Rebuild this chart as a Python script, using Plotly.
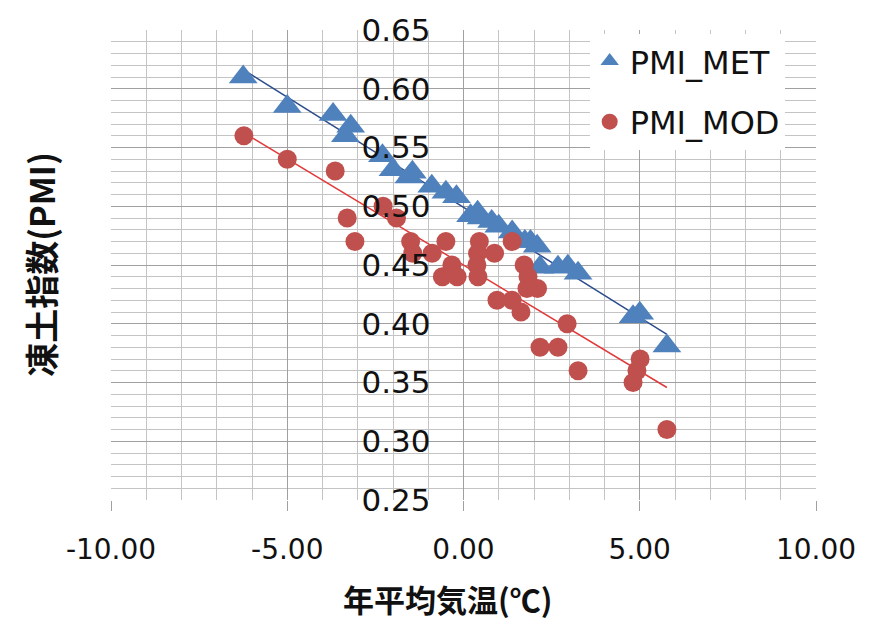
import numpy as np
import plotly.graph_objects as go

# ---- data ----
met_x = [-6.25, -5.00, -3.70, -3.20, -3.35, -2.30, -2.00, -1.55, -1.45, -0.90, -0.50, -0.20,
         0.20, 0.40, 0.50, 0.80, 1.00, 1.38, 1.74, 1.90, 2.09, 2.17, 2.68, 2.96, 3.25,
         4.81, 5.00, 5.77]
met_y = [0.610, 0.585, 0.578, 0.568, 0.560, 0.543, 0.531, 0.525, 0.529, 0.517, 0.512, 0.508,
         0.492, 0.495, 0.490, 0.487, 0.483, 0.478, 0.470, 0.470, 0.466, 0.448, 0.448, 0.449, 0.443,
         0.406, 0.409, 0.381]

mod_x = [-6.23, -5.00, -3.64, -3.30, -3.08, -2.28, -1.90, -1.50, -1.44, -0.89, -0.50, -0.60,
         -0.33, -0.18, 0.45, 0.40, 0.38, 0.41, 0.88, 1.38, 0.95, 1.38, 1.63, 1.72, 1.83,
         1.80, 2.10, 2.94, 2.17, 2.68, 3.25, 5.01, 4.92, 4.81, 5.77]
mod_y = [0.56, 0.54, 0.53, 0.49, 0.47, 0.50, 0.49, 0.47, 0.46, 0.46, 0.47, 0.44,
         0.45, 0.44, 0.47, 0.46, 0.45, 0.44, 0.46, 0.47, 0.42, 0.42, 0.41, 0.45, 0.44,
         0.43, 0.43, 0.40, 0.38, 0.38, 0.36, 0.37, 0.36, 0.35, 0.31]

# linear trendlines (slope, intercept)
met_trend = [-0.01875, 0.4991]
mod_trend = [-0.01807, 0.4500]

x_ticks = [-10, -5, 0, 5, 10]
x_ticktext = ["-10.00", "-5.00", "0.00", "5.00", "10.00"]
y_ticks = [0.25, 0.30, 0.35, 0.40, 0.45, 0.50, 0.55, 0.60, 0.65]

x_title = "年平均気温(℃)"
y_title = "凍土指数(PMI)"
names = ["PMI_MET", "PMI_MOD"]

BLUE = "#4F81BD"
RED = "#C0504D"


def trend(xs, coef):
    xx = np.array([min(xs), max(xs)])
    return xx, coef[0] * xx + coef[1]


fig = go.Figure()

tx, ty = trend(met_x, met_trend)
fig.add_trace(go.Scatter(x=tx, y=ty, mode="lines", line=dict(color="#2B4C8C", width=1.5),
                         showlegend=False, hoverinfo="skip"))
tx2, ty2 = trend(mod_x, mod_trend)
fig.add_trace(go.Scatter(x=tx2, y=ty2, mode="lines", line=dict(color="#E23A3A", width=1.5),
                         showlegend=False, hoverinfo="skip"))

fig.add_trace(go.Scatter(x=met_x, y=met_y, mode="markers", name=names[0], legendgroup="a",
                         marker=dict(symbol="triangle-up", size=25, color=BLUE)))
fig.add_trace(go.Scatter(x=mod_x, y=mod_y, mode="markers", name=names[1], legendgroup="b",
                         marker=dict(symbol="circle", size=19, color=RED)))

fig.update_layout(
    width=874, height=625,
    margin=dict(l=111, r=58, t=22, b=125),
    plot_bgcolor="white", paper_bgcolor="white",
    showlegend=True,
    legend=dict(x=0.679, y=0.992, xanchor="left", yanchor="top",
                bgcolor="white", borderwidth=0,
                font=dict(family="DejaVu Sans", size=32, color="#111111"),
                tracegroupgap=16, traceorder="grouped"),
    xaxis=dict(range=[-10, 10], tickvals=x_ticks, ticktext=x_ticktext,
               showgrid=True, gridcolor="#A0A0A0", gridwidth=1.2,
               minor=dict(dtick=1, showgrid=True, gridcolor="#C4C4C4", gridwidth=1),
               zeroline=False, showline=False,
               ticks="outside", ticklen=10, tickcolor="#A0A0A0",
               tickfont=dict(family="DejaVu Sans", size=28, color="#111111"),
               ticklabelstandoff=14),
    yaxis=dict(range=[0.25, 0.65], tickvals=y_ticks, tickformat=".2f",
               anchor="free", position=0.5,
               showgrid=True, gridcolor="#A0A0A0", gridwidth=1.2,
               minor=dict(dtick=0.01, showgrid=True, gridcolor="#C4C4C4", gridwidth=1),
               zeroline=False, showline=False, ticks="",
               tickfont=dict(family="DejaVu Sans", size=31, color="#111111"),
               ticklabelstandoff=33),
    annotations=[
        dict(text=x_title, xref="paper", yref="paper", x=0.477, y=-0.21,
             xanchor="center", yanchor="middle", showarrow=False,
             font=dict(family="Noto Sans CJK JP", size=31, color="#111111", weight="bold")),
        dict(text=y_title, xref="paper", yref="paper", x=-0.101, y=0.502,
             xanchor="center", yanchor="middle", showarrow=False, textangle=-90,
             font=dict(family="Noto Sans CJK JP", size=34, color="#111111", weight="bold")),
    ],
)

fig.write_html("out.html")
